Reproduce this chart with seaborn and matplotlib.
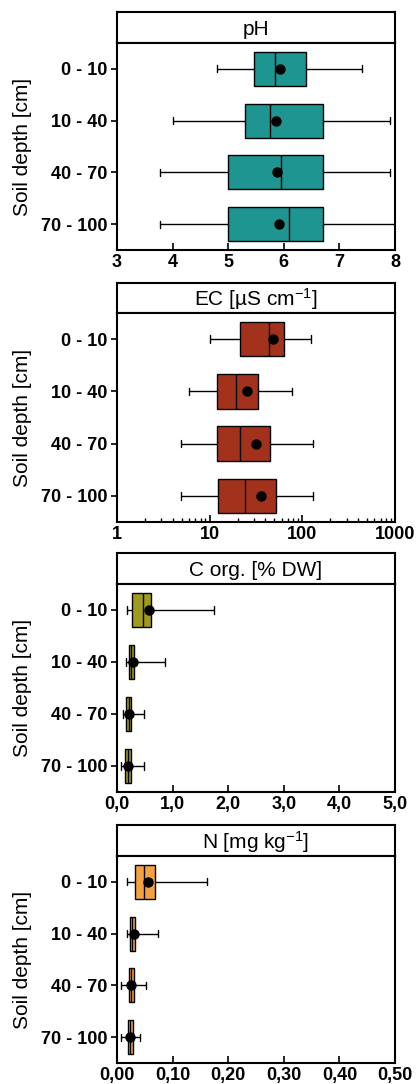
import matplotlib
matplotlib.use('Agg')
import matplotlib.pyplot as plt
import matplotlib.ticker as mticker
import seaborn as sns
import numpy as np
import pandas as pd

# profundidades del suelo
profundidades = ['0 - 10', '10 - 40', '40 - 70', '70 - 100']

# pH: [min, q1, mediana, q3, max] por profundidad
ph_min = [4.80, 4.00, 3.78, 3.78]
ph_q1 = [5.46, 5.30, 5.00, 5.00]
ph_med = [5.85, 5.75, 5.95, 6.10]
ph_q3 = [6.40, 6.71, 6.71, 6.71]
ph_max = [7.41, 7.91, 7.91, 8.00]
ph_media = [5.94, 5.86, 5.88, 5.92]

# EC [uS/cm]
ec_min = [10.0, 6.0, 4.9, 4.9]
ec_q1 = [21.5, 12.0, 12.0, 12.2]
ec_med = [43.9, 19.3, 21.5, 23.8]
ec_q3 = [63.7, 33.4, 45.3, 51.8]
ec_max = [124.7, 77.7, 128.9, 131.0]
ec_media = [48.1, 25.4, 31.5, 35.9]

# C org [% DW]
c_min = [0.18, 0.17, 0.10, 0.07]
c_q1 = [0.27, 0.22, 0.17, 0.14]
c_med = [0.46, 0.26, 0.21, 0.19]
c_q3 = [0.62, 0.31, 0.25, 0.25]
c_max = [1.74, 0.87, 0.48, 0.48]
c_media = [0.58, 0.28, 0.22, 0.20]

# N [mg/kg]
n_min = [0.018, 0.018, 0.007, 0.007]
n_q1 = [0.032, 0.023, 0.021, 0.020]
n_med = [0.048, 0.027, 0.025, 0.024]
n_q3 = [0.068, 0.032, 0.030, 0.029]
n_max = [0.161, 0.074, 0.052, 0.042]
n_media = [0.056, 0.031, 0.026, 0.024]

sns.set_theme(style='ticks')
plt.rcParams['font.family'] = ['Liberation Sans', 'DejaVu Sans']
plt.rcParams['mathtext.fontset'] = 'custom'
plt.rcParams['mathtext.rm'] = 'Liberation Sans'
plt.rcParams['mathtext.it'] = 'Liberation Sans:italic'
for k in ('text.color', 'axes.labelcolor', 'xtick.color', 'ytick.color', 'axes.edgecolor'):
    plt.rcParams[k] = 'black'


def tabla_cinco(mins, q1s, meds, q3s, maxs):
    # con 5 valores y whis=(0,100) los cuartiles coinciden exactamente
    filas = []
    for i, prof in enumerate(profundidades):
        for v in (mins[i], q1s[i], meds[i], q3s[i], maxs[i]):
            filas.append({'prof': prof, 'valor': v})
    return pd.DataFrame(filas)


paneles = [
    dict(titulo='pH', datos=(ph_min, ph_q1, ph_med, ph_q3, ph_max), media=ph_media,
         color='#1f9591', log=False, xlim=(3, 8), ticks=[3, 4, 5, 6, 7, 8], fmt='{:.0f}',
         y=(12, 43, 250)),
    dict(titulo='EC [µS cm$^{-1}$]', datos=(ec_min, ec_q1, ec_med, ec_q3, ec_max), media=ec_media,
         color='#a3321c', log=True, xlim=(1, 1000), ticks=[1, 10, 100, 1000], fmt='{:.0f}',
         y=(283, 313, 522)),
    dict(titulo='C org. [% DW]', datos=(c_min, c_q1, c_med, c_q3, c_max), media=c_media,
         color='#a09a22', log=False, xlim=(0, 5), ticks=[0, 1, 2, 3, 4, 5], fmt='{:.1f}',
         y=(553, 584, 792)),
    dict(titulo='N [mg kg$^{-1}$]', datos=(n_min, n_q1, n_med, n_q3, n_max), media=n_media,
         color='#f4a142', log=False, xlim=(0, 0.5), ticks=[0, 0.1, 0.2, 0.3, 0.4, 0.5], fmt='{:.2f}',
         y=(825, 856, 1063)),
]

W, H = 417, 1084
fig = plt.figure(figsize=(W / 100, H / 100), dpi=100)
izq, der = 117 / W, 395 / W

for p in paneles:
    y_top, y_strip, y_bot = p['y']
    ax_t = fig.add_axes([izq, 1 - y_strip / H, der - izq, (y_strip - y_top) / H])
    ax = fig.add_axes([izq, 1 - y_bot / H, der - izq, (y_bot - y_strip) / H])

    df = tabla_cinco(*p['datos'])
    sns.boxplot(data=df, x='valor', y='prof', order=profundidades, orient='h',
                whis=(0, 100), width=0.66, color=p['color'], saturation=1,
                linecolor='black', linewidth=1.0, fliersize=0,
                log_scale=p['log'], ax=ax)
    ax.plot(p['media'], np.arange(len(profundidades)), 'o', color='black',
            markersize=6.5, zorder=5)

    # caps cortos
    for ln in ax.lines:
        yd = np.asarray(ln.get_ydata(), dtype=float)
        xd = np.asarray(ln.get_xdata(), dtype=float)
        if len(xd) == 2 and xd[0] == xd[1] and abs(yd[1] - yd[0]) < 0.6 and abs(yd[1] - yd[0]) > 0:
            c = (yd[0] + yd[1]) / 2
            ln.set_ydata([c - 0.07, c + 0.07])

    ax.set_xlim(*p['xlim'])
    ax.set_ylim(3.5, -0.5)
    ax.set_xticks(p['ticks'])
    ax.xaxis.set_major_formatter(mticker.FixedFormatter(
        [p['fmt'].format(t).replace('.', ',') for t in p['ticks']]))
    if p['log']:
        ax.xaxis.set_minor_locator(mticker.LogLocator(base=10, subs=np.arange(2, 10)))
        ax.xaxis.set_minor_formatter(mticker.NullFormatter())
        ax.tick_params(axis='x', which='minor', direction='in', length=3, width=1)
    ax.tick_params(axis='x', which='major', direction='in', length=5, width=1.2,
                   labelsize=13, pad=3)
    ax.tick_params(axis='y', direction='out', length=4, width=1.2, labelsize=13, pad=3)
    for lab in ax.get_xticklabels() + ax.get_yticklabels():
        lab.set_fontweight('bold')
    ax.set_xlabel('')
    ax.set_ylabel('Soil depth [cm]', fontsize=15, labelpad=6)
    for s in ax.spines.values():
        s.set_visible(True)
        s.set_linewidth(1.5)

    ax_t.set_xticks([])
    ax_t.set_yticks([])
    for s in ax_t.spines.values():
        s.set_visible(True)
        s.set_linewidth(1.5)
    ax_t.text(0.5, 0.45, p['titulo'], ha='center', va='center', fontsize=15,
              transform=ax_t.transAxes)

fig.savefig('out.png', dpi=100)
